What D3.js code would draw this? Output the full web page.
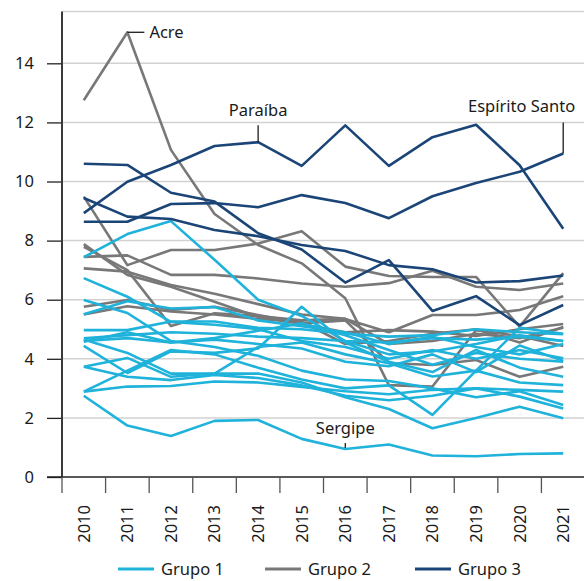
<!DOCTYPE html>
<meta charset="utf-8">
<style>
body{margin:0;background:#fff;}
svg text{font-family:"Noto Sans",sans-serif;fill:#1a1a1a;}
.grid{stroke:#d2d2d2;stroke-width:1.5;}
.serie{fill:none;stroke-width:2.6;stroke-linejoin:round;}
</style>
<body>
<script src="https://cdnjs.cloudflare.com/ajax/libs/d3/7.8.5/d3.min.js"></script>
<script>

var width = 584,
    height = 581;

var years = [2010, 2011, 2012, 2013, 2014, 2015, 2016, 2017, 2018, 2019, 2020, 2021];
var yTicks = [0, 2, 4, 6, 8, 10, 12, 14];

// Grupo 1 (azul claro)
var sergipe = [2.75, 1.74, 1.39, 1.9, 1.93, 1.29, 0.95, 1.1, 0.73, 0.7, 0.78, 0.8];
var grupo1 = [
    [7.44, 8.22, 8.66, 7.35, 6.0, 5.45, 4.6, 4.15, 4.25, 4.5, 4.8, 4.6],
    [6.73, 6.1, 5.25, 5.15, 5.0, 4.6, 4.4, 4.0, 4.3, 4.0, 4.3, 4.02],
    [5.99, 5.55, 4.6, 4.4, 4.1, 3.6, 3.3, 3.25, 3.0, 2.7, 2.9, 2.44],
    [5.51, 5.95, 5.7, 5.75, 5.3, 5.1, 4.9, 4.5, 4.75, 4.4, 4.15, 4.5],
    [4.97, 4.97, 5.26, 5.26, 5.05, 5.0, 4.85, 4.75, 4.8, 5.0, 4.9, 4.83],
    [4.69, 4.8, 4.9, 4.85, 4.75, 4.7, 4.6, 4.55, 4.7, 4.65, 4.75, 4.6],
    [4.6, 4.7, 4.55, 4.7, 4.95, 5.2, 4.8, 4.3, 3.8, 4.2, 4.0, 3.9],
    [4.58, 4.9, 4.55, 4.65, 4.5, 4.35, 3.9, 3.75, 4.15, 3.55, 4.45, 3.93],
    [4.44, 3.52, 4.25, 4.2, 4.35, 5.76, 4.55, 3.9, 3.55, 4.3, 3.7, 3.39],
    [3.73, 4.03, 3.39, 3.5, 4.4, 4.55, 4.15, 3.85, 3.4, 3.6, 3.2, 3.11],
    [3.73, 3.39, 3.28, 3.45, 3.35, 3.1, 2.75, 2.6, 2.75, 3.0, 2.72, 2.32],
    [2.89, 3.6, 4.3, 4.15, 3.7, 3.3, 3.0, 3.1, 2.1, 3.6, 5.05, 4.85],
    [2.89, 3.06, 3.08, 3.23, 3.2, 3.05, 2.9, 2.8, 2.95, 3.0, 2.95, 2.89],
    [4.65, 4.2, 3.5, 3.5, 3.5, 3.2, 2.7, 2.3, 1.65, 2.0, 2.38, 1.99]
];

// Grupo 2 (cinza)
var acre = [12.75, 15.05, 11.07, 8.9, 7.85, 7.23, 6.05, 3.11, 3.06, 4.97, 4.77, 4.43];
var grupo2 = [
    [9.49, 7.17, 7.68, 7.68, 7.9, 8.32, 7.12, 6.8, 6.77, 6.77, 5.09, 6.9],
    [7.45, 7.5, 6.84, 6.84, 6.72, 6.55, 6.44, 6.56, 6.98, 6.44, 6.33, 6.55],
    [7.06, 6.95, 6.5, 6.2, 5.85, 5.5, 5.35, 4.9, 5.48, 5.48, 5.65, 6.12],
    [7.88, 6.84, 6.44, 5.93, 5.42, 5.18, 4.9, 4.97, 4.92, 4.77, 5.0, 5.18],
    [7.79, 7.0, 5.11, 5.54, 5.45, 5.3, 5.35, 4.5, 4.6, 4.85, 4.7, 5.05],
    [5.76, 5.99, 5.65, 5.76, 5.48, 5.2, 5.3, 3.86, 3.79, 3.96, 3.39, 3.73],
    [5.5, 5.78, 5.6, 5.5, 5.35, 5.25, 4.5, 4.6, 4.85, 5.0, 4.55, 5.08]
];

// Grupo 3 (azul escuro)
var paraiba = [8.93, 9.99, 10.56, 11.2, 11.33, 10.53, 11.9, 10.53, 11.5, 11.92, 10.55, 8.4];
var espiritoSanto = [8.64, 8.64, 9.24, 9.27, 9.13, 9.54, 9.27, 8.76, 9.5, 9.95, 10.33, 10.95];
var grupo3 = [
    [10.6, 10.56, 9.62, 9.32, 8.25, 7.7, 6.58, 7.34, 5.62, 6.12, 5.14, 5.82],
    [9.44, 8.81, 8.73, 8.36, 8.15, 7.85, 7.65, 7.17, 7.03, 6.58, 6.63, 6.82]
];

var grupos = ["Grupo 1", "Grupo 2", "Grupo 3"];
var cores = ["#1fb2da", "#787878", "#1b4577"];

var series = [];
grupo2.concat([acre]).forEach(function(v){ series.push({grupo:1, values:v}); });
grupo1.concat([sergipe]).forEach(function(v){ series.push({grupo:0, values:v}); });
grupo3.concat([paraiba, espiritoSanto]).forEach(function(v){ series.push({grupo:2, values:v}); });

var svg = d3.select("body").append("svg")
    .attr("width", width)
    .attr("height", height);

var x = d3.scaleBand()
    .domain(years)
    .range([62, 585]);

var y = d3.scaleLinear()
    .domain([0, 15.75])
    .range([477, 11.6]);

// grade
svg.append("g").selectAll("line")
    .data(yTicks.slice(1).concat([15.75]))
    .enter().append("line")
    .attr("class", "grid")
    .attr("x1", 62).attr("x2", 584)
    .attr("y1", function(d){ return y(d); })
    .attr("y2", function(d){ return y(d); });

// eixo y
var yAxis = svg.append("g")
    .attr("transform", "translate(62,0)")
    .call(d3.axisLeft(y).tickValues(yTicks).tickSize(15).tickPadding(13));
yAxis.select(".domain").remove();
yAxis.selectAll(".tick line").attr("stroke", "#222").attr("stroke-width", 1.3);
yAxis.selectAll("text")
    .style("font-family", "Noto Sans").style("font-size", "16.5px").attr("fill", "#1a1a1a");

svg.append("line")
    .attr("x1", 62).attr("x2", 62)
    .attr("y1", y(15.75)).attr("y2", 477)
    .attr("stroke", "#3a3a3a").attr("stroke-width", 2);

// eixo x
svg.append("line")
    .attr("x1", 47).attr("x2", 584)
    .attr("y1", 477).attr("y2", 477)
    .attr("stroke", "#222").attr("stroke-width", 1.5);

svg.append("g").selectAll("line")
    .data(years)
    .enter().append("line")
    .attr("x1", function(d){ return x(d); })
    .attr("x2", function(d){ return x(d); })
    .attr("y1", 477).attr("y2", 493)
    .attr("stroke", "#555").attr("stroke-width", 1.3);

svg.append("g").selectAll("text")
    .data(years)
    .enter().append("text")
    .attr("transform", function(d){ return "translate(" + (x(d) + x.bandwidth() / 2) + ",505) rotate(-90)"; })
    .attr("text-anchor", "end")
    .attr("dy", "0.36em")
    .style("font-size", "16.5px")
    .text(function(d){ return d; });

// linhas
var line = d3.line()
    .x(function(d, i){ return x(years[i]) + x.bandwidth() / 2; })
    .y(function(d){ return y(d); });

svg.append("g").selectAll("path")
    .data(series)
    .enter().append("path")
    .attr("class", "serie")
    .attr("stroke", function(d){ return cores[d.grupo]; })
    .attr("d", function(d){ return line(d.values); });

// rótulos
function cx(i){ return x(years[i]) + x.bandwidth() / 2; }
var ann = svg.append("g").attr("stroke", "#1a1a1a").attr("stroke-width", 1.3);

ann.append("line").attr("x1", cx(1)).attr("x2", cx(1) + 17)
    .attr("y1", y(acre[1])).attr("y2", y(acre[1]));
svg.append("text").attr("x", cx(1) + 22).attr("y", y(acre[1]) + 6)
    .style("font-size", "16.5px").text("Acre");

ann.append("line").attr("x1", cx(4)).attr("x2", cx(4))
    .attr("y1", y(paraiba[4]) - 17).attr("y2", y(paraiba[4]));
svg.append("text").attr("x", cx(4)).attr("y", y(paraiba[4]) - 26)
    .attr("text-anchor", "middle").style("font-size", "16.5px").text("Paraíba");

ann.append("line").attr("x1", cx(11)).attr("x2", cx(11))
    .attr("y1", y(espiritoSanto[11]) - 31).attr("y2", y(espiritoSanto[11]));
svg.append("text").attr("x", cx(11) + 12).attr("y", y(espiritoSanto[11]) - 41)
    .attr("text-anchor", "end").style("font-size", "16.5px").text("Espírito Santo");

ann.append("line").attr("x1", cx(6)).attr("x2", cx(6))
    .attr("y1", y(sergipe[6]) - 6).attr("y2", y(sergipe[6]) - 1);
svg.append("text").attr("x", cx(6)).attr("y", y(sergipe[6]) - 15)
    .attr("text-anchor", "middle").style("font-size", "16.5px").text("Sergipe");

// legenda
var legendX = [118, 265, 415];
var legend = svg.append("g").selectAll("g")
    .data(grupos)
    .enter().append("g")
    .attr("transform", function(d, i){ return "translate(" + legendX[i] + ",569)"; });
legend.append("line")
    .attr("x1", 0).attr("x2", 36)
    .attr("stroke", function(d, i){ return cores[i]; })
    .attr("stroke-width", 3);
legend.append("text")
    .attr("x", 43).attr("dy", "0.34em")
    .style("font-size", "16.5px")
    .text(function(d){ return d; });

</script>
